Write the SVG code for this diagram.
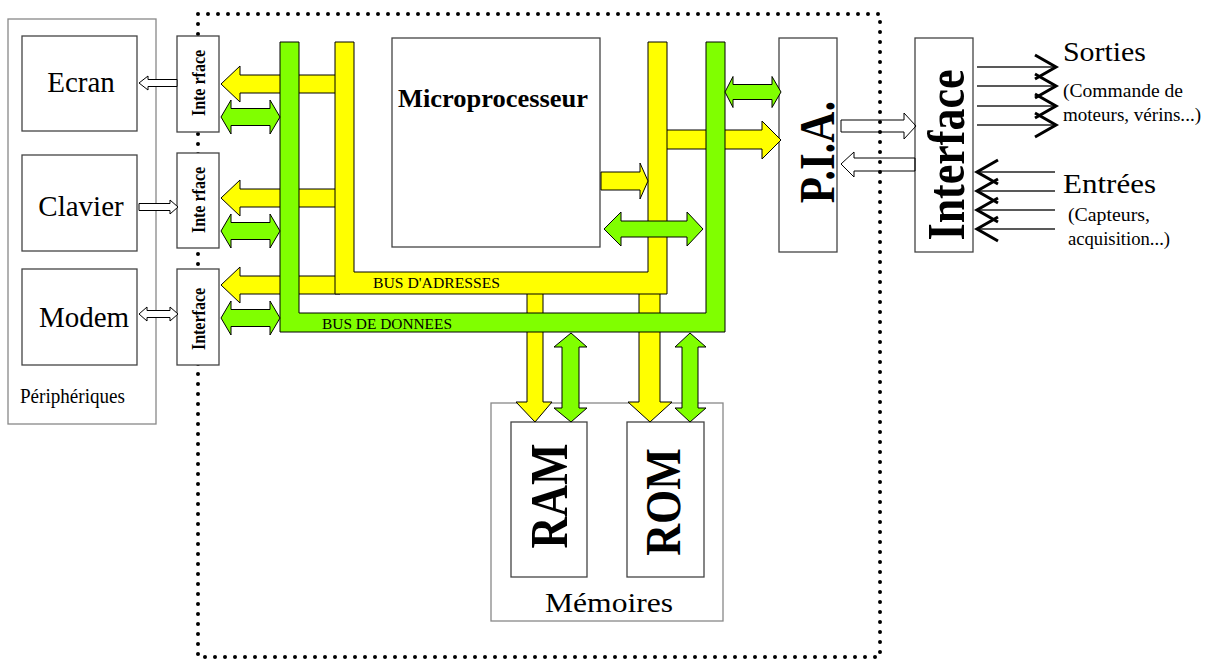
<svg xmlns="http://www.w3.org/2000/svg" width="1210" height="659" viewBox="0 0 1210 659">
<style>
.box{fill:#fff;stroke:#444;stroke-width:1.3}
.gbox{fill:#fff;stroke:#888;stroke-width:1.3}
.t{font-family:"Liberation Serif","Times New Roman",serif;fill:#000}
.b{font-weight:bold}
.y{fill:#ffff00;stroke:#000;stroke-width:1}
.g{fill:#80ff00;stroke:#000;stroke-width:1}
.h{fill:#fff;stroke:#000;stroke-width:1}
.ln{stroke:#222;stroke-width:1.3;fill:none}
.hd{stroke:#000;stroke-width:3;fill:none;stroke-linejoin:miter}
</style>
<rect width="1210" height="659" fill="#fff"/>
<path d="M198,14 H880 V657 H198 Z" fill="none" stroke="#000" stroke-width="4" stroke-dasharray="0 10" stroke-linecap="round"/>

<g id="peripheriques">
<rect class="gbox" x="8" y="19" width="148" height="405"/>
<text class="t" x="20" y="403" font-size="21" textLength="105" lengthAdjust="spacingAndGlyphs">Périphériques</text>
</g>
<g id="ecran"><rect class="box" x="22" y="36" width="115" height="95"/>
<text class="t" x="81" y="92" font-size="29" text-anchor="middle">Ecran</text></g>
<g id="clavier"><rect class="box" x="22" y="155" width="115" height="96"/>
<text class="t" x="81" y="216" font-size="29" text-anchor="middle">Clavier</text></g>
<g id="modem"><rect class="box" x="22" y="269" width="115" height="96"/>
<text class="t" x="84" y="327" font-size="29" text-anchor="middle">Modem</text></g>

<g id="interface1"><rect class="box" x="177" y="36" width="42" height="96"/>
<text class="t b" transform="translate(205,83) scale(1.15,1) rotate(-90)" font-size="16" text-anchor="middle">Inte rface</text></g>
<g id="interface2"><rect class="box" x="177" y="153" width="42" height="95"/>
<text class="t b" transform="translate(205,200) scale(1.15,1) rotate(-90)" font-size="16" text-anchor="middle">Inte rface</text></g>
<g id="interface3"><rect class="box" x="177" y="269" width="42" height="96"/>
<text class="t b" transform="translate(205,319) scale(1.15,1) rotate(-90)" font-size="16" text-anchor="middle">Interface</text></g>

<g id="microprocesseur"><rect class="box" x="392" y="38" width="208" height="209"/>
<text class="t b" x="398" y="107" font-size="26" textLength="190" lengthAdjust="spacingAndGlyphs">Microprocesseur</text></g>

<g id="pia"><rect class="box" x="779" y="38" width="58" height="214"/>
<text class="t b" transform="translate(834,152) scale(1.2,1) rotate(-90)" font-size="43" text-anchor="middle">P.I.A.</text></g>

<g id="interface"><rect class="box" x="915" y="38" width="58" height="214"/>
<text class="t b" transform="translate(964,155) scale(1.2,1) rotate(-90)" font-size="44" text-anchor="middle">Interface</text></g>

<g id="sorties">
<text class="t" x="1063" y="61" font-size="27" textLength="83" lengthAdjust="spacingAndGlyphs">Sorties</text>
<text class="t" x="1063" y="97" font-size="18" textLength="120" lengthAdjust="spacingAndGlyphs">(Commande de</text>
<text class="t" x="1063" y="121" font-size="18" textLength="138" lengthAdjust="spacingAndGlyphs">moteurs, vérins...)</text>
</g>
<g id="entrees">
<text class="t" x="1063" y="193" font-size="27" textLength="93" lengthAdjust="spacingAndGlyphs">Entrées</text>
<text class="t" x="1068" y="221" font-size="18" textLength="82" lengthAdjust="spacingAndGlyphs">(Capteurs,</text>
<text class="t" x="1068" y="245" font-size="18" textLength="102" lengthAdjust="spacingAndGlyphs">acquisition...)</text>
</g>

<g id="memoires"><rect class="gbox" x="491" y="403" width="232" height="218"/>
<text class="t" x="545" y="612" font-size="28" textLength="128" lengthAdjust="spacingAndGlyphs">Mémoires</text></g>
<g id="ram"><rect class="box" x="511" y="422" width="76" height="155"/>
<text class="t b" transform="translate(567,496) scale(1.2,1) rotate(-90)" font-size="44" text-anchor="middle">RAM</text></g>
<g id="rom"><rect class="box" x="627" y="422" width="77" height="155"/>
<text class="t b" transform="translate(680,502) scale(1.15,1) rotate(-90)" font-size="44" text-anchor="middle">ROM</text></g>

<g id="connectors">
<!-- peripheral hollow arrows -->
<polygon class="h" points="139,83 148,76 148,79.5 177,79.5 177,86.5 148,86.5 148,90"/>
<polygon class="h" points="178,207 170,200 170,203.5 139,203.5 139,210.5 170,210.5 170,214"/>
<polygon class="h" points="139,314 147,307 147,310.5 170,310.5 170,307 178,314 170,321 170,317.5 147,317.5 147,321"/>

<!-- yellow arms to interfaces -->
<polygon class="y" points="221,84 240,66 240,75 340,75 340,93 240,93 240,102"/>
<polygon class="y" points="221,198 240,180 240,189 340,189 340,207 240,207 240,216"/>
<polygon class="y" points="221,285 240,267 240,276 340,276 340,294 240,294 240,303"/>
<!-- yellow down shafts to memories -->
<polygon class="y" points="527,290 543,290 543,402 552,402 535,422 516,402 527,402"/>
<polygon class="y" points="639,290 660,290 660,402 672,402 650,422 628,402 639,402"/>
<!-- yellow to PIA -->
<polygon class="y" points="660,130 762,130 762,121 781,140 762,159 762,149 660,149"/>
<!-- address bus -->
<polygon class="y" points="335,42 354,42 354,272 648,272 648,42 667,42 667,294 335,294"/>
<!-- micro to address bus -->
<polygon class="y" points="601,172 640,172 640,163 648,181 640,199 640,190 601,190"/>

<!-- data bus -->
<polygon class="g" points="280,42 299,42 299,313 706,313 706,42 725,42 725,332 280,332"/>
<!-- green double arrows to interfaces -->
<polygon class="g" points="221,117 231,100 231,108.5 270,108.5 270,100 280,117 270,134 270,125.5 231,125.5 231,134"/>
<polygon class="g" points="221,231 231,214 231,222.5 270,222.5 270,214 280,231 270,248 270,239.5 231,239.5 231,248"/>
<polygon class="g" points="221,318 231,301 231,309.5 270,309.5 270,301 280,318 270,335 270,326.5 231,326.5 231,335"/>
<!-- micro <-> data bus -->
<polygon class="g" points="604,229 621,212 621,221 687,221 687,212 703,229 687,246 687,237 621,237 621,246"/>
<!-- data bus <-> PIA -->
<polygon class="g" points="725,92 733,76.5 733,84.5 772,84.5 772,76.5 781,92 772,107.5 772,99.5 733,99.5 733,107.5"/>
<!-- data bus <-> RAM / ROM -->
<polygon class="g" points="571,333 587,347 579,347 579,408 587,408 571,422 554,408 562,408 562,347 554,347"/>
<polygon class="g" points="690,333 706,347 698,347 698,408 706,408 690,422 675,408 682,408 682,347 675,347"/>

<!-- PIA <-> Interface -->
<polygon class="h" style="fill:none" points="841,120 904,120 904,113 916,126 904,139 904,132 841,132"/>
<polygon class="h" style="fill:none" points="841,164 854,152 854,158 915,158 915,171 854,171 854,177"/>

<!-- outputs -->
<line class="ln" x1="977" y1="67" x2="1056" y2="67"/>
<line class="ln" x1="977" y1="86" x2="1056" y2="86"/>
<line class="ln" x1="977" y1="106" x2="1056" y2="106"/>
<line class="ln" x1="977" y1="125" x2="1056" y2="125"/>
<polyline class="hd" points="1035,55 1056,67 1035,79"/>
<polyline class="hd" points="1035,74 1056,86 1035,98"/>
<polyline class="hd" points="1035,94 1056,106 1035,118"/>
<polyline class="hd" points="1035,113 1056,125 1035,137"/>
<!-- inputs -->
<line class="ln" x1="977" y1="172" x2="1055" y2="172"/>
<line class="ln" x1="977" y1="191" x2="1055" y2="191"/>
<line class="ln" x1="977" y1="210" x2="1055" y2="210"/>
<line class="ln" x1="977" y1="229" x2="1055" y2="229"/>
<polyline class="hd" points="998,160 977,172 998,184"/>
<polyline class="hd" points="998,179 977,191 998,203"/>
<polyline class="hd" points="998,198 977,210 998,222"/>
<polyline class="hd" points="998,217 977,229 998,241"/>
</g>

<g id="bus-labels">
<text class="t" x="373" y="288" font-size="15" textLength="127" lengthAdjust="spacingAndGlyphs">BUS D'ADRESSES</text>
<text class="t" x="322" y="329" font-size="15" textLength="130" lengthAdjust="spacingAndGlyphs">BUS DE DONNEES</text>
</g>
</svg>
